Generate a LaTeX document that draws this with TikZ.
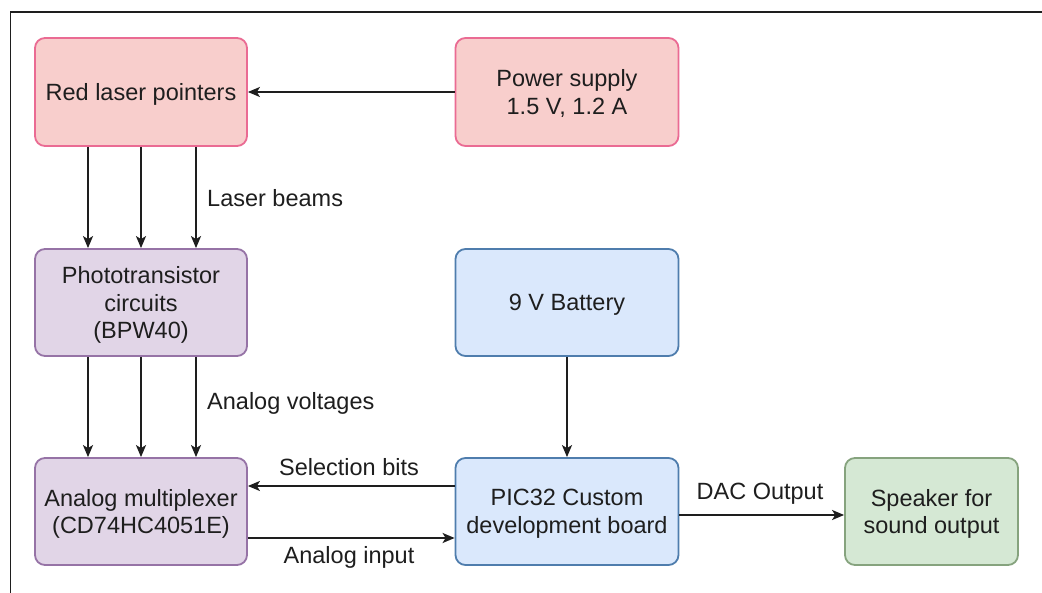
\documentclass[tikz,border=0pt]{standalone}
\usepackage{fontspec}
\setmainfont{Liberation Sans}
\usetikzlibrary{arrows.meta}
\definecolor{redfill}{HTML}{F8CECC}
\definecolor{redline}{HTML}{EA6B93}
\definecolor{purfill}{HTML}{E1D5E7}
\definecolor{purline}{HTML}{9673A6}
\definecolor{blufill}{HTML}{DAE8FC}
\definecolor{bluline}{HTML}{4F7DAD}
\definecolor{grnfill}{HTML}{D5E8D4}
\definecolor{grnline}{HTML}{86A37E}
\definecolor{ink}{HTML}{1E1E1E}
\tikzset{
  blk/.style={rectangle, rounded corners=10pt, line width=1.8pt, align=center,
    text=ink, font=\fontsize{23.5}{27.5}\selectfont, inner sep=0pt, text depth=0pt},
  redb/.style={blk, fill=redfill, draw=redline},
  purb/.style={blk, fill=purfill, draw=purline},
  blub/.style={blk, fill=blufill, draw=bluline},
  grnb/.style={blk, fill=grnfill, draw=grnline},
  conn/.style={draw=ink, line width=1.8pt, -{Stealth[length=12pt,width=10pt,inset=3pt]}},
  lbl/.style={text=ink, font=\fontsize{23.5}{27.5}\selectfont, inner sep=0pt}
}
\begin{document}
\begin{tikzpicture}[x=1pt,y=-1pt]
\useasboundingbox (0,0) rectangle (1042,593);
\fill[white] (0,0) rectangle (1042,593);
\draw[line width=1.5pt, ink] (10.5,593) -- (10.5,12) -- (1042,12);

\node[redb, minimum width=212pt, minimum height=108pt] (laser) at (141,92) {Red laser pointers};
\node[redb, minimum width=223pt, minimum height=108pt] (power) at (567,92) {Power supply\\1.5 V, 1.2 A};
\node[purb, minimum width=212pt, minimum height=107pt] (photo) at (141,302.5) {Phototransistor\\circuits\\(BPW40)};
\node[blub, minimum width=223pt, minimum height=107pt] (batt) at (567,302.5) {9 V Battery};
\node[purb, minimum width=212pt, minimum height=107pt] (mux) at (141,511.5) {Analog multiplexer\\(CD74HC4051E)};
\node[blub, minimum width=223pt, minimum height=107pt] (pic) at (567,511.5) {PIC32 Custom\\development board};
\node[grnb, minimum width=173pt, minimum height=107pt] (spk) at (931.5,511.5) {Speaker for\\sound output};

\draw[conn] (power.west) -- (laser.east);
\foreach \dx in {-53,0,55} {
  \draw[conn] ([xshift=\dx pt]laser.south) -- ([xshift=\dx pt]photo.north);
  \draw[conn] ([xshift=\dx pt]photo.south) -- ([xshift=\dx pt]mux.north);
}
\draw[conn] (batt.south) -- (pic.north);
\draw[conn] ([yshift=25.5pt]pic.west) -- ([yshift=25.5pt]mux.east);
\draw[conn] ([yshift=-26.5pt]mux.east) -- ([yshift=-26.5pt]pic.west);
\draw[conn] ([yshift=-3.5pt]pic.east) -- ([yshift=-3.5pt]spk.west);

\node[lbl, anchor=west] (l1) at (207,198) {Laser beams};
\node[lbl, anchor=west] (l2) at (207,403) {Analog voltages};
\node[lbl] (l3) at (349,467) {Selection bits};
\node[lbl] (l4) at (349,557) {Analog input};
\node[lbl] (l5) at (760,494) {DAC Output};
\end{tikzpicture}
\end{document}
